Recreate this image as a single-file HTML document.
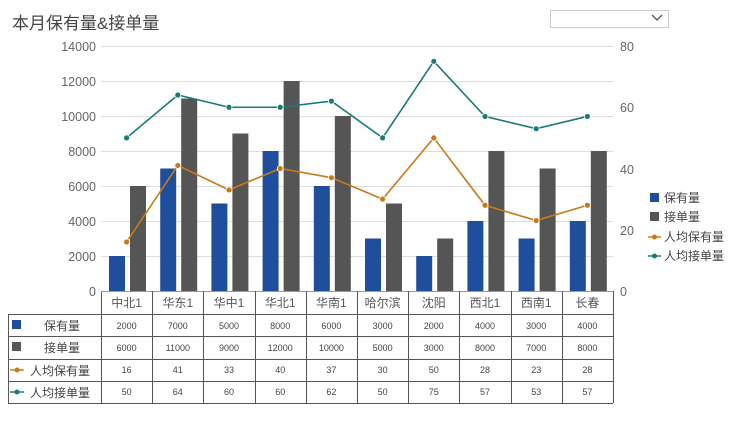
<!DOCTYPE html>
<html><head><meta charset="utf-8"><style>
body{margin:0;background:#fff;width:734px;height:424px;overflow:hidden;font-family:"Liberation Sans","Noto Sans CJK SC",sans-serif}
</style></head><body>
<svg width="734" height="424" xmlns="http://www.w3.org/2000/svg" font-family="Liberation Sans, Noto Sans CJK SC, sans-serif">
<text x="12" y="29" font-size="17" fill="#444">本月保有量&amp;接单量</text>
<rect x="550.5" y="10.5" width="118" height="17" fill="#fff" stroke="#ccc"/>
<path d="M652 15 l5 5 l5 -5" fill="none" stroke="#555" stroke-width="1.3"/>
<g stroke="#ddd" stroke-width="1">
<line x1="101" x2="613" y1="46.5" y2="46.5"/><line x1="101" x2="613" y1="81.5" y2="81.5"/>
<line x1="101" x2="613" y1="116.5" y2="116.5"/><line x1="101" x2="613" y1="151.5" y2="151.5"/>
<line x1="101" x2="613" y1="186.5" y2="186.5"/><line x1="101" x2="613" y1="221.5" y2="221.5"/>
<line x1="101" x2="613" y1="256.5" y2="256.5"/>
</g>
<g font-size="12.5" fill="#666" text-anchor="end">
<text x="96" y="51">14000</text><text x="96" y="86">12000</text><text x="96" y="121">10000</text>
<text x="96" y="156">8000</text><text x="96" y="191">6000</text><text x="96" y="226">4000</text>
<text x="96" y="261">2000</text><text x="96" y="296">0</text>
</g>
<g font-size="12.5" fill="#666">
<text x="620" y="51">80</text><text x="620" y="112">60</text><text x="620" y="174">40</text>
<text x="620" y="235">20</text><text x="620" y="296">0</text>
</g>
<g id="bars"></g>
<g stroke="#555" stroke-width="1" fill="none">
<line x1="101.5" y1="291" x2="101.5" y2="403"/>
<line x1="8" y1="314.5" x2="613" y2="314.5"/>
<line x1="8" y1="336.5" x2="613" y2="336.5"/>
<line x1="8" y1="359.5" x2="613" y2="359.5"/>
<line x1="8" y1="381.5" x2="613" y2="381.5"/>
<line x1="8" y1="403.5" x2="613" y2="403.5"/>
<line x1="8.5" y1="314" x2="8.5" y2="403"/>
<line x1="101" y1="291.5" x2="613" y2="291.5" stroke="#999"/>
</g>
<g id="tbl"></g>
<rect x="12" y="320" width="9" height="9" fill="#1f4e9c"/>
<rect x="12" y="342" width="9" height="9" fill="#555"/>
<line x1="10" x2="24" y1="370" y2="370" stroke="#c87a1a" stroke-width="1.5"/><circle cx="17" cy="370" r="2.5" fill="#c87a1a"/>
<line x1="10" x2="24" y1="392" y2="392" stroke="#1a7a78" stroke-width="1.5"/><circle cx="17" cy="392" r="2.5" fill="#1a7a78"/>
<g font-size="12" fill="#444">
<text x="44" y="330">保有量</text><text x="44" y="352">接单量</text>
<text x="30" y="375">人均保有量</text><text x="30" y="397">人均接单量</text>
</g>
<g font-size="12" fill="#444">
<rect x="650" y="193" width="9" height="9" fill="#1f4e9c"/><text x="664" y="202">保有量</text>
<rect x="650" y="212" width="9" height="9" fill="#555"/><text x="664" y="221">接单量</text>
<line x1="648" x2="661" y1="237" y2="237" stroke="#c87a1a" stroke-width="1.5"/><circle cx="654.5" cy="237" r="2.5" fill="#c87a1a"/><text x="664" y="241">人均保有量</text>
<line x1="648" x2="661" y1="256" y2="256" stroke="#1a7a78" stroke-width="1.5"/><circle cx="654.5" cy="256" r="2.5" fill="#1a7a78"/><text x="664" y="260">人均接单量</text>
</g>
<g id="lines"></g>
</svg>
<script>
var cats=["中北1","华东1","华中1","华北1","华南1","哈尔滨","沈阳","西北1","西南1","长春"];
var a=[2000,7000,5000,8000,6000,3000,2000,4000,3000,4000];
var b=[6000,11000,9000,12000,10000,5000,3000,8000,7000,8000];
var c=[16,41,33,40,37,30,50,28,23,28];
var d=[50,64,60,60,62,50,75,57,53,57];
var NS="http://www.w3.org/2000/svg";
function el(p,t,at,txt){var e=document.createElementNS(NS,t);for(var k in at)e.setAttribute(k,at[k]);if(txt!=null)e.textContent=txt;document.getElementById(p).appendChild(e);return e;}
var w=51.2,x0=101;
var rowsY=[330,352,374,396];
for(var i=0;i<10;i++){
 var cx=x0+i*w;
 var ha=a[i]*0.0175,hb=b[i]*0.0175;
 el("bars","rect",{x:cx+8,y:291-ha,width:16,height:ha,fill:"#1f4e9c"});
 el("bars","rect",{x:cx+29,y:291-hb,width:16,height:hb,fill:"#555"});
 var xe=Math.round(x0+(i+1)*w)+0.5;
 el("tbl","line",{x1:xe,x2:xe,y1:291,y2:403,stroke:"#555"});
 var m=cx+w/2;
 el("tbl","text",{x:m,y:307,"font-size":12,fill:"#555","text-anchor":"middle"},cats[i]);
 [a,b,c,d].forEach(function(arr,j){el("tbl","text",{x:m,y:rowsY[j]-1,"font-size":9,fill:"#444","text-anchor":"middle"},arr[i]);});
}
function line(arr,col){
 var pts=arr.map(function(v,i){return (x0+i*w+w/2)+","+(291-v*3.0625);});
 el("lines","polyline",{points:pts.join(" "),fill:"none",stroke:col,"stroke-width":1.6});
 arr.forEach(function(v,i){el("lines","circle",{cx:x0+i*w+w/2,cy:291-v*3.0625,r:3,fill:col,stroke:"#fff","stroke-width":0.8});});
}
line(c,"#c87a1a");line(d,"#1a7a78");
</script>
</body></html>
